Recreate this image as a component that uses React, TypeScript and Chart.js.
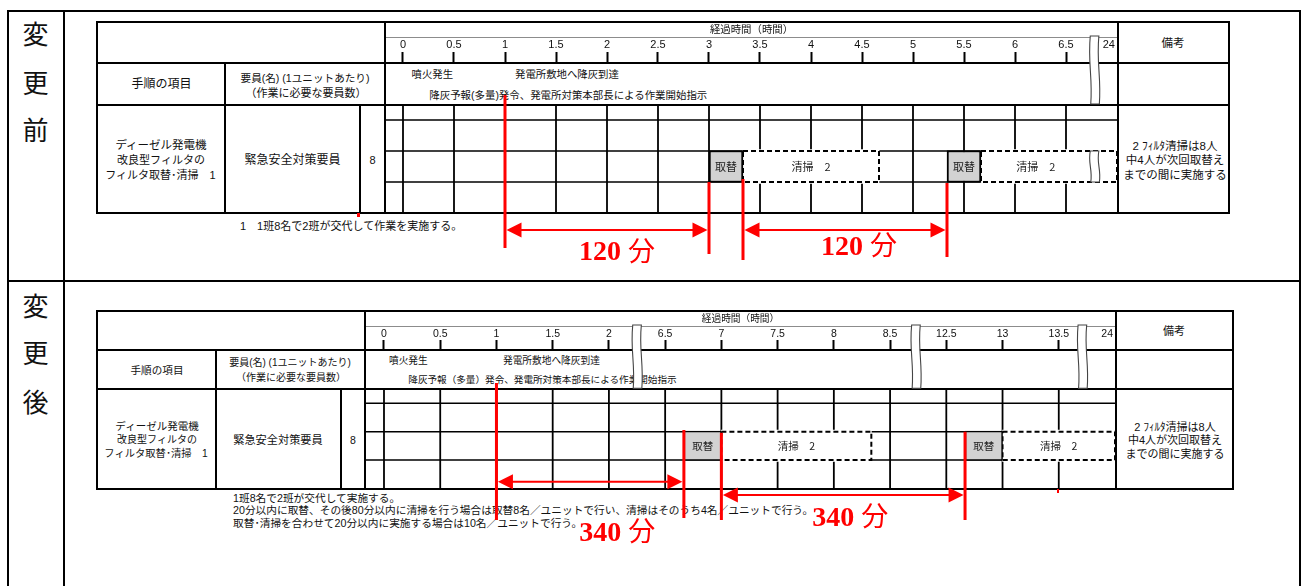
import React, { useEffect, useRef } from 'react';
import { Chart, registerables } from 'chart.js';

Chart.register(...registerables);
const FONT = '"Liberation Sans", "Noto Sans CJK JP", sans-serif';
Chart.defaults.font.family = FONT;

// ---------------- data ----------------
const AXIS_TITLE = '経過時間（時間）';
const TICKS_BEFORE = [0, 0.5, 1, 1.5, 2, 2.5, 3, 3.5, 4, 4.5, 5, 5.5, 6, 6.5, 24];
const TICKS_AFTER = [0, 0.5, 1, 1.5, 2, 6.5, 7, 7.5, 8, 8.5, 12.5, 13, 13.5, 24];
// [start, end] in minutes after the eruption
const TORIKAE_BEFORE = [[180, 200], [320, 340]];
const SEISOU_BEFORE = [[200, 280], [340, 420]];
const INTERVAL_BEFORE = [[60, 180], [200, 320]];
const TORIKAE_AFTER = [[400, 420], [760, 780]];
const SEISOU_AFTER = [[420, 500], [780, 860]];
const INTERVAL_AFTER = [[60, 400], [420, 760]];
const TORIKAE_LABEL = '取替';
const SEISOU_LABEL = '清掃　2';
const MINUTE_UNIT = '分';

// ---------------- broken-axis layout (display units) ----------------
const AXIS_BEFORE = { segments: [[0, 6.5, 0]], min: -17 / 102, max: 7.0, tail: 6.92, breaks: [6.78] };
const AXIS_AFTER = {
  segments: [[0, 2, 0], [6.5, 8.5, 2.5], [12.5, 13.5, 5]],
  min: -0.16, max: 6.5, tail: 6.43, breaks: [2.25, 4.73, 6.21],
};

function toDisplay(axis: any, h: number) {
  if (h >= 24) return axis.tail;
  for (const [a, b, d] of axis.segments) {
    if (h >= a - 1e-9 && h <= b + 1e-9) return d + (h - a);
  }
  const last = axis.segments[axis.segments.length - 1];
  if (h > last[1]) return axis.max;
  for (const [a, , d] of axis.segments) if (h < a) return d;
  return axis.max;
}

// ---------------- geometry ----------------
const LAYOUT_BEFORE = {
  canvas: { left: 386, top: 22, width: 731, height: 250 },
  axisHeight: 40, titleSize: 10.4, titlePad: 1.8, tickSize: 11,
  rows: [42.5, 58, 89, 120, 150.5],
  bar: [89, 120], torikaeBorder: 2, barLabelSize: 11,
  headBreak: [-26, 42], barBreak: true,
  spans: [
    { arrowY: 168, startLine: [33, 186], endLine: [120, 192], labelDx: 10, labelY: 188.8 },
    { arrowY: 168, startLine: [117, 198], endLine: [121, 195], labelDx: 14, labelY: 183.3 },
  ],
};
const LAYOUT_AFTER = {
  canvas: { left: 366, top: 311, width: 749, height: 240 },
  axisHeight: 39, titleSize: 9.7, titlePad: 2.7, tickSize: 10.5,
  rows: [39, 53.3, 81.7, 110, 139],
  bar: [81.7, 110], torikaeBorder: 1.5, barLabelSize: 10.5,
  headBreak: [-25, 38.3], barBreak: false,
  spans: [
    { arrowY: 131.7, startLine: [33, 170], endLine: [80, 168], labelDx: 27, labelY: 181.3 },
    { arrowY: 145, startLine: [82.7, 170], endLine: [81.7, 170], labelDx: 7, labelY: 166.3 },
  ],
};

const BEFORE = {
  id: 'before', ticks: TICKS_BEFORE, torikae: TORIKAE_BEFORE, seisou: SEISOU_BEFORE,
  intervals: INTERVAL_BEFORE, axis: AXIS_BEFORE, geom: LAYOUT_BEFORE,
};
const AFTER = {
  id: 'after', ticks: TICKS_AFTER, torikae: TORIKAE_AFTER, seisou: SEISOU_AFTER,
  intervals: INTERVAL_AFTER, axis: AXIS_AFTER, geom: LAYOUT_AFTER,
};

function drawBreak(ctx: CanvasRenderingContext2D, cx: number, y1: number, y2: number) {
  const hw = 4.3;
  const h = y2 - y1;
  ctx.save();
  ctx.beginPath();
  ctx.moveTo(cx - hw, y1);
  ctx.bezierCurveTo(cx - hw - 2.5, y1 + h * 0.4, cx - hw + 2.5, y1 + h * 0.6, cx - hw + 0.5, y2);
  ctx.lineTo(cx + hw + 0.5, y2);
  ctx.bezierCurveTo(cx + hw + 2.5, y1 + h * 0.6, cx + hw - 2.5, y1 + h * 0.4, cx + hw, y1);
  ctx.closePath();
  ctx.fillStyle = '#fff';
  ctx.fill();
  ctx.strokeStyle = '#444';
  ctx.lineWidth = 1.1;
  ctx.stroke();
  ctx.restore();
}

function drawMinutes(ctx: CanvasRenderingContext2D, text: string, cx: number, cy: number) {
  const numFont = 'bold 28px "Liberation Serif"';
  const unitFont = '27px "Noto Sans CJK JP"';
  ctx.font = numFont;
  const nw = ctx.measureText(text).width;
  ctx.font = unitFont;
  const uw = ctx.measureText(MINUTE_UNIT).width;
  const sp = 7;
  const left = cx - (nw + sp + uw) / 2;
  const base = cy + 9.5;
  ctx.textAlign = 'left';
  ctx.textBaseline = 'alphabetic';
  ctx.font = numFont;
  ctx.fillText(text, left, base);
  ctx.font = unitFont;
  ctx.fillText(MINUTE_UNIT, left + nw + sp, base + 0.5);
}

function buildConfig(cfg: any): any {
  const { axis, geom } = cfg;
  const hrs = (m: number) => m / 60;
  const barMid = (geom.bar[0] + geom.bar[1]) / 2;
  const barH = geom.bar[1] - geom.bar[0];
  const toBar = (list: number[][]) =>
    list.map(([s, e]) => ({ x: [toDisplay(axis, hrs(s)), toDisplay(axis, hrs(e))], y: barMid }));
  const outline = ([s, e]: number[]) => {
    const a = toDisplay(axis, hrs(s));
    const b = toDisplay(axis, hrs(e));
    const [t, btm] = geom.bar;
    return [{ x: a, y: t }, { x: b, y: t }, { x: b, y: btm }, { x: a, y: btm }, { x: a, y: t }];
  };

  const plugin = {
    id: 'table-' + cfg.id,
    beforeDatasetsDraw(chart: any) {
      const { ctx, chartArea, scales } = chart;
      const x = scales.x;
      const y = scales.y;
      ctx.save();
      ctx.strokeStyle = '#000';
      ctx.lineWidth = 1.8;
      const yTop = y.getPixelForValue(geom.rows[0]);
      const yBot = y.getPixelForValue(geom.rows[geom.rows.length - 1]);
      cfg.ticks.forEach((t: number, i: number) => {
        if (i === cfg.ticks.length - 1) return;
        const px = x.getPixelForValue(toDisplay(axis, t));
        ctx.beginPath();
        ctx.moveTo(px, yTop);
        ctx.lineTo(px, yBot);
        ctx.stroke();
      });
      ctx.lineWidth = 1.5;
      geom.rows.slice(1, -1).forEach((r: number) => {
        const py = y.getPixelForValue(r);
        ctx.beginPath();
        ctx.moveTo(chartArea.left, py);
        ctx.lineTo(chartArea.right, py);
        ctx.stroke();
      });
      ctx.restore();
    },
    afterDatasetsDraw(chart: any) {
      const { ctx, scales } = chart;
      const x = scales.x;
      const y = scales.y;
      const X = (m: number) => x.getPixelForValue(toDisplay(axis, hrs(m)));
      const Y = (v: number) => y.getPixelForValue(v);

      // labels inside bars
      ctx.save();
      ctx.fillStyle = '#222';
      ctx.textAlign = 'center';
      ctx.textBaseline = 'middle';
      ctx.font = `${geom.barLabelSize}px "Noto Sans CJK JP"`;
      chart.data.datasets.forEach((ds: any, i: number) => {
        if (ds.kind !== 'torikae' && ds.kind !== 'seisou') return;
        const meta = chart.getDatasetMeta(i);
        meta.data.forEach((el: any) => {
          const p = el.getProps(['x', 'base', 'y'], true);
          const l = Math.min(p.x, p.base);
          let r = Math.max(p.x, p.base);
          if (geom.barBreak) {
            for (const b of axis.breaks) {
              const bp = x.getPixelForValue(b);
              if (bp > l && bp < r) r = bp - 4;
            }
          }
          ctx.fillText(ds.kind === 'torikae' ? TORIKAE_LABEL : SEISOU_LABEL, (l + r) / 2, p.y + 0.5);
        });
      });
      ctx.restore();

      // axis break markers
      axis.breaks.forEach((b: number) => {
        const bx = x.getPixelForValue(b);
        drawBreak(ctx, bx, Y(geom.headBreak[0]), Y(geom.headBreak[1]));
        if (geom.barBreak) drawBreak(ctx, bx, Y(geom.bar[0]), Y(geom.bar[1]));
      });

      // red interval annotations
      ctx.save();
      ctx.strokeStyle = '#ff0000';
      ctx.fillStyle = '#ff0000';
      cfg.intervals.forEach(([s, e]: number[], i: number) => {
        const L = geom.spans[i];
        const xs = X(s);
        const xe = X(e);
        ctx.lineWidth = 3;
        ctx.beginPath();
        ctx.moveTo(xs, Y(L.startLine[0]));
        ctx.lineTo(xs, Y(L.startLine[1]));
        ctx.moveTo(xe, Y(L.endLine[0]));
        ctx.lineTo(xe, Y(L.endLine[1]));
        ctx.stroke();
        const ay = Y(L.arrowY);
        ctx.lineWidth = 2;
        ctx.beginPath();
        ctx.moveTo(xs + 10, ay);
        ctx.lineTo(xe - 10, ay);
        ctx.stroke();
        const tl = xs + 1.5;
        const tr = xe - 1.5;
        ctx.beginPath();
        ctx.moveTo(tl, ay);
        ctx.lineTo(tl + 15, ay - 7.5);
        ctx.lineTo(tl + 15, ay + 7.5);
        ctx.closePath();
        ctx.fill();
        ctx.beginPath();
        ctx.moveTo(tr, ay);
        ctx.lineTo(tr - 15, ay - 7.5);
        ctx.lineTo(tr - 15, ay + 7.5);
        ctx.closePath();
        ctx.fill();
        drawMinutes(ctx, String(e - s), (xs + xe) / 2 + L.labelDx, Y(L.labelY));
      });
      ctx.restore();
    },
  };

  return {
    type: 'scatter',
    data: {
      datasets: [
        {
          type: 'bar', kind: 'torikae', label: TORIKAE_LABEL, data: toBar(cfg.torikae), indexAxis: 'y',
          backgroundColor: '#d2d2d2', borderColor: '#000', borderWidth: geom.torikaeBorder,
          borderSkipped: false, barThickness: barH + 1, stack: 'work', order: 1,
        },
        ...cfg.seisou.map((sp: number[]) => ({
          type: 'line', kind: 'outline', label: SEISOU_LABEL, data: outline(sp), showLine: true,
          borderColor: '#000', borderWidth: 2, borderDash: [5, 3], pointRadius: 0, fill: false,
          tension: 0, order: 2,
        })),
        {
          type: 'bar', kind: 'seisou', label: SEISOU_LABEL, data: toBar(cfg.seisou), indexAxis: 'y',
          backgroundColor: '#fff', borderWidth: 0, barThickness: barH + 3, stack: 'work', order: 3,
        },
      ],
    },
    options: {
      responsive: false,
      animation: false,
      events: [],
      layout: { padding: 0, autoPadding: false },
      plugins: { legend: { display: false }, tooltip: { enabled: false }, title: { display: false } },
      scales: {
        x: {
          type: 'linear', position: 'top', min: axis.min, max: axis.max, bounds: 'data',
          stacked: false, offset: false,
          afterBuildTicks: (s: any) => {
            s.ticks = cfg.ticks.map((t: number) => ({ value: toDisplay(axis, t) }));
          },
          afterFit: (s: any) => {
            s.height = geom.axisHeight;
          },
          ticks: {
            autoSkip: false, maxRotation: 0, minRotation: 0, padding: 0, color: '#111',
            font: { size: geom.tickSize, family: '"Liberation Sans"' },
            callback: (_v: any, i: number) => String(cfg.ticks[i]),
          },
          grid: {
            display: true, offset: false, drawOnChartArea: false, drawTicks: true, tickLength: 10,
            tickWidth: 2, color: 'rgba(0,0,0,0)',
            tickColor: (c: any) => (c.index === cfg.ticks.length - 1 ? 'rgba(0,0,0,0)' : '#000'),
          },
          border: { display: false },
          title: {
            display: true, text: AXIS_TITLE, color: '#111',
            font: { size: geom.titleSize, family: FONT },
            padding: { top: geom.titlePad, bottom: 0 },
          },
        },
        y: {
          type: 'linear', display: false, reverse: true, min: 0,
          max: geom.canvas.height - geom.axisHeight, offset: false,
        },
      },
    },
    plugins: [plugin],
  };
}

function TimeChart({ cfg }: { cfg: any }) {
  const ref = useRef<HTMLCanvasElement>(null);
  useEffect(() => {
    const chart = new Chart(ref.current as HTMLCanvasElement, buildConfig(cfg));
    return () => chart.destroy();
  }, [cfg]);
  const c = cfg.geom.canvas;
  return (
    <canvas
      ref={ref}
      width={c.width}
      height={c.height}
      style={{ position: 'absolute', left: c.left, top: c.top, width: c.width, height: c.height }}
    />
  );
}

// ---------------- static table layout ----------------
const FRAME_LINES = [[7, 10, 1294, 2], [7, 280, 1294, 2], [7, 10, 2, 576], [63, 10, 2, 576], [1299, 10, 2, 576]];
const S1_LINES = [
  [96, 21, 1134, 2], [96, 62, 1134, 2], [96, 104, 1134, 2], [96, 212, 1134, 2],
  [96, 21, 2, 193], [224, 62, 2, 152], [359, 104, 2, 110], [384, 21, 2, 193], [1117, 21, 2, 193], [1228, 21, 2, 193],
];
const S2_LINES = [
  [96, 310, 1138, 2], [96, 349, 1138, 2], [96, 388, 1138, 2], [96, 488, 1138, 2],
  [96, 310, 2, 180], [215, 349, 2, 141], [340, 388, 2, 102], [364, 310, 2, 180], [1115, 310, 2, 180], [1232, 310, 2, 180],
];
const GRAY_LINES = [[386, 37, 731, 1], [366, 326, 749, 1]];
const RED_MARKS = [[357, 213, 3, 4], [1057, 489, 2, 4]];

function Lines({ list, color = '#000' }: { list: number[][]; color?: string }) {
  return (
    <>
      {list.map(([l, t, w, h], i) => (
        <div key={i} style={{ position: 'absolute', left: l, top: t, width: w, height: h, background: color }} />
      ))}
    </>
  );
}

function T({ x, y, s = 11, a = 'c', t }: { x: number; y: number; s?: number; a?: string; t: string }) {
  const lh = Math.round(s * 1.4);
  const style: React.CSSProperties = {
    position: 'absolute', top: y - lh / 2, left: x, fontSize: s, lineHeight: `${lh}px`, whiteSpace: 'nowrap',
  };
  if (a === 'c') style.transform = 'translateX(-50%)';
  return <div style={style}>{t}</div>;
}

export default function App() {
  return (
    <div
      style={{
        position: 'absolute', left: 0, top: 0, width: 1306, height: 586, overflow: 'hidden',
        background: '#fff', fontFamily: FONT, color: '#111',
      }}
    >
      <Lines list={FRAME_LINES} />
      <Lines list={S1_LINES} />
      <Lines list={S2_LINES} />
      <Lines list={GRAY_LINES} color="#8c8c8c" />
      <Lines list={RED_MARKS} color="#ff0000" />

      {/* section labels */}
      <T x={35.5} y={35} s={26} t="変" />
      <T x={35.5} y={84} s={26} t="更" />
      <T x={35.5} y={131} s={26} t="前" />
      <T x={35.5} y={307} s={26} t="変" />
      <T x={35.5} y={354} s={26} t="更" />
      <T x={35.5} y={403} s={26} t="後" />

      {/* ---- before ---- */}
      <T x={161.5} y={84} s={12} t="手順の項目" />
      <T x={305} y={78.7} s={10.6} t="要員(名) (1ユニットあたり)" />
      <T x={306} y={93} s={11} t="（作業に必要な要員数）" />
      <T x={161} y={145} s={11.5} t="ディーゼル発電機" />
      <T x={161} y={160} s={11} t="改良型フィルタの" />
      <T x={160.5} y={175} s={11} t="フィルタ取替･清掃　1" />
      <T x={292.5} y={160} s={12} t="緊急安全対策要員" />
      <T x={372.5} y={160} s={11} t="8" />
      <T x={1173} y={43} s={11.5} t="備考" />
      <T x={1175} y={145.5} s={11.5} t="2 ﾌｨﾙﾀ清掃は8人" />
      <T x={1175} y={160} s={11.5} t="中4人が次回取替え" />
      <T x={1175} y={175} s={11.5} t="までの間に実施する" />
      <T x={411.5} y={74} s={10.4} a="l" t="噴火発生" />
      <T x={515} y={74} s={10.4} a="l" t="発電所敷地へ降灰到達" />
      <T x={429.3} y={95} s={10.45} a="l" t="降灰予報(多量)発令、発電所対策本部長による作業開始指示" />
      <T x={240} y={226.7} s={11} a="l" t="1　1班8名で2班が交代して作業を実施する。" />

      {/* ---- after ---- */}
      <T x={157} y={370.5} s={10.6} t="手順の項目" />
      <T x={290} y={363} s={10} t="要員(名) (1ユニットあたり)" />
      <T x={291} y={377.5} s={10} t="（作業に必要な要員数）" />
      <T x={157} y={426.7} s={10.5} t="ディーゼル発電機" />
      <T x={157} y={440} s={10} t="改良型フィルタの" />
      <T x={156} y={453.5} s={10.3} t="フィルタ取替･清掃　1" />
      <T x={278} y={440} s={11.2} t="緊急安全対策要員" />
      <T x={353} y={440} s={10.5} t="8" />
      <T x={1174} y={331} s={11} t="備考" />
      <T x={1175} y={427} s={11} t="2 ﾌｨﾙﾀ清掃は8人" />
      <T x={1175} y={440.5} s={11} t="中4人が次回取替え" />
      <T x={1175} y={454.5} s={11} t="までの間に実施する" />
      <T x={389} y={361} s={9.7} a="l" t="噴火発生" />
      <T x={503} y={361} s={9.7} a="l" t="発電所敷地へ降灰到達" />
      <T x={408.3} y={379.5} s={9.6} a="l" t="降灰予報（多量）発令、発電所対策本部長による作業開始指示" />
      <T x={233} y={498} s={10.7} a="l" t="1班8名で2班が交代して実施する。" />
      <T x={233} y={510.5} s={10.7} a="l" t="20分以内に取替、その後80分以内に清掃を行う場合は取替8名／ユニットで行い、清掃はそのうち4名／ユニットで行う。" />
      <T x={233} y={523.5} s={10.7} a="l" t="取替･清掃を合わせて20分以内に実施する場合は10名／ユニットで行う。" />

      <TimeChart cfg={BEFORE} />
      <TimeChart cfg={AFTER} />
    </div>
  );
}
